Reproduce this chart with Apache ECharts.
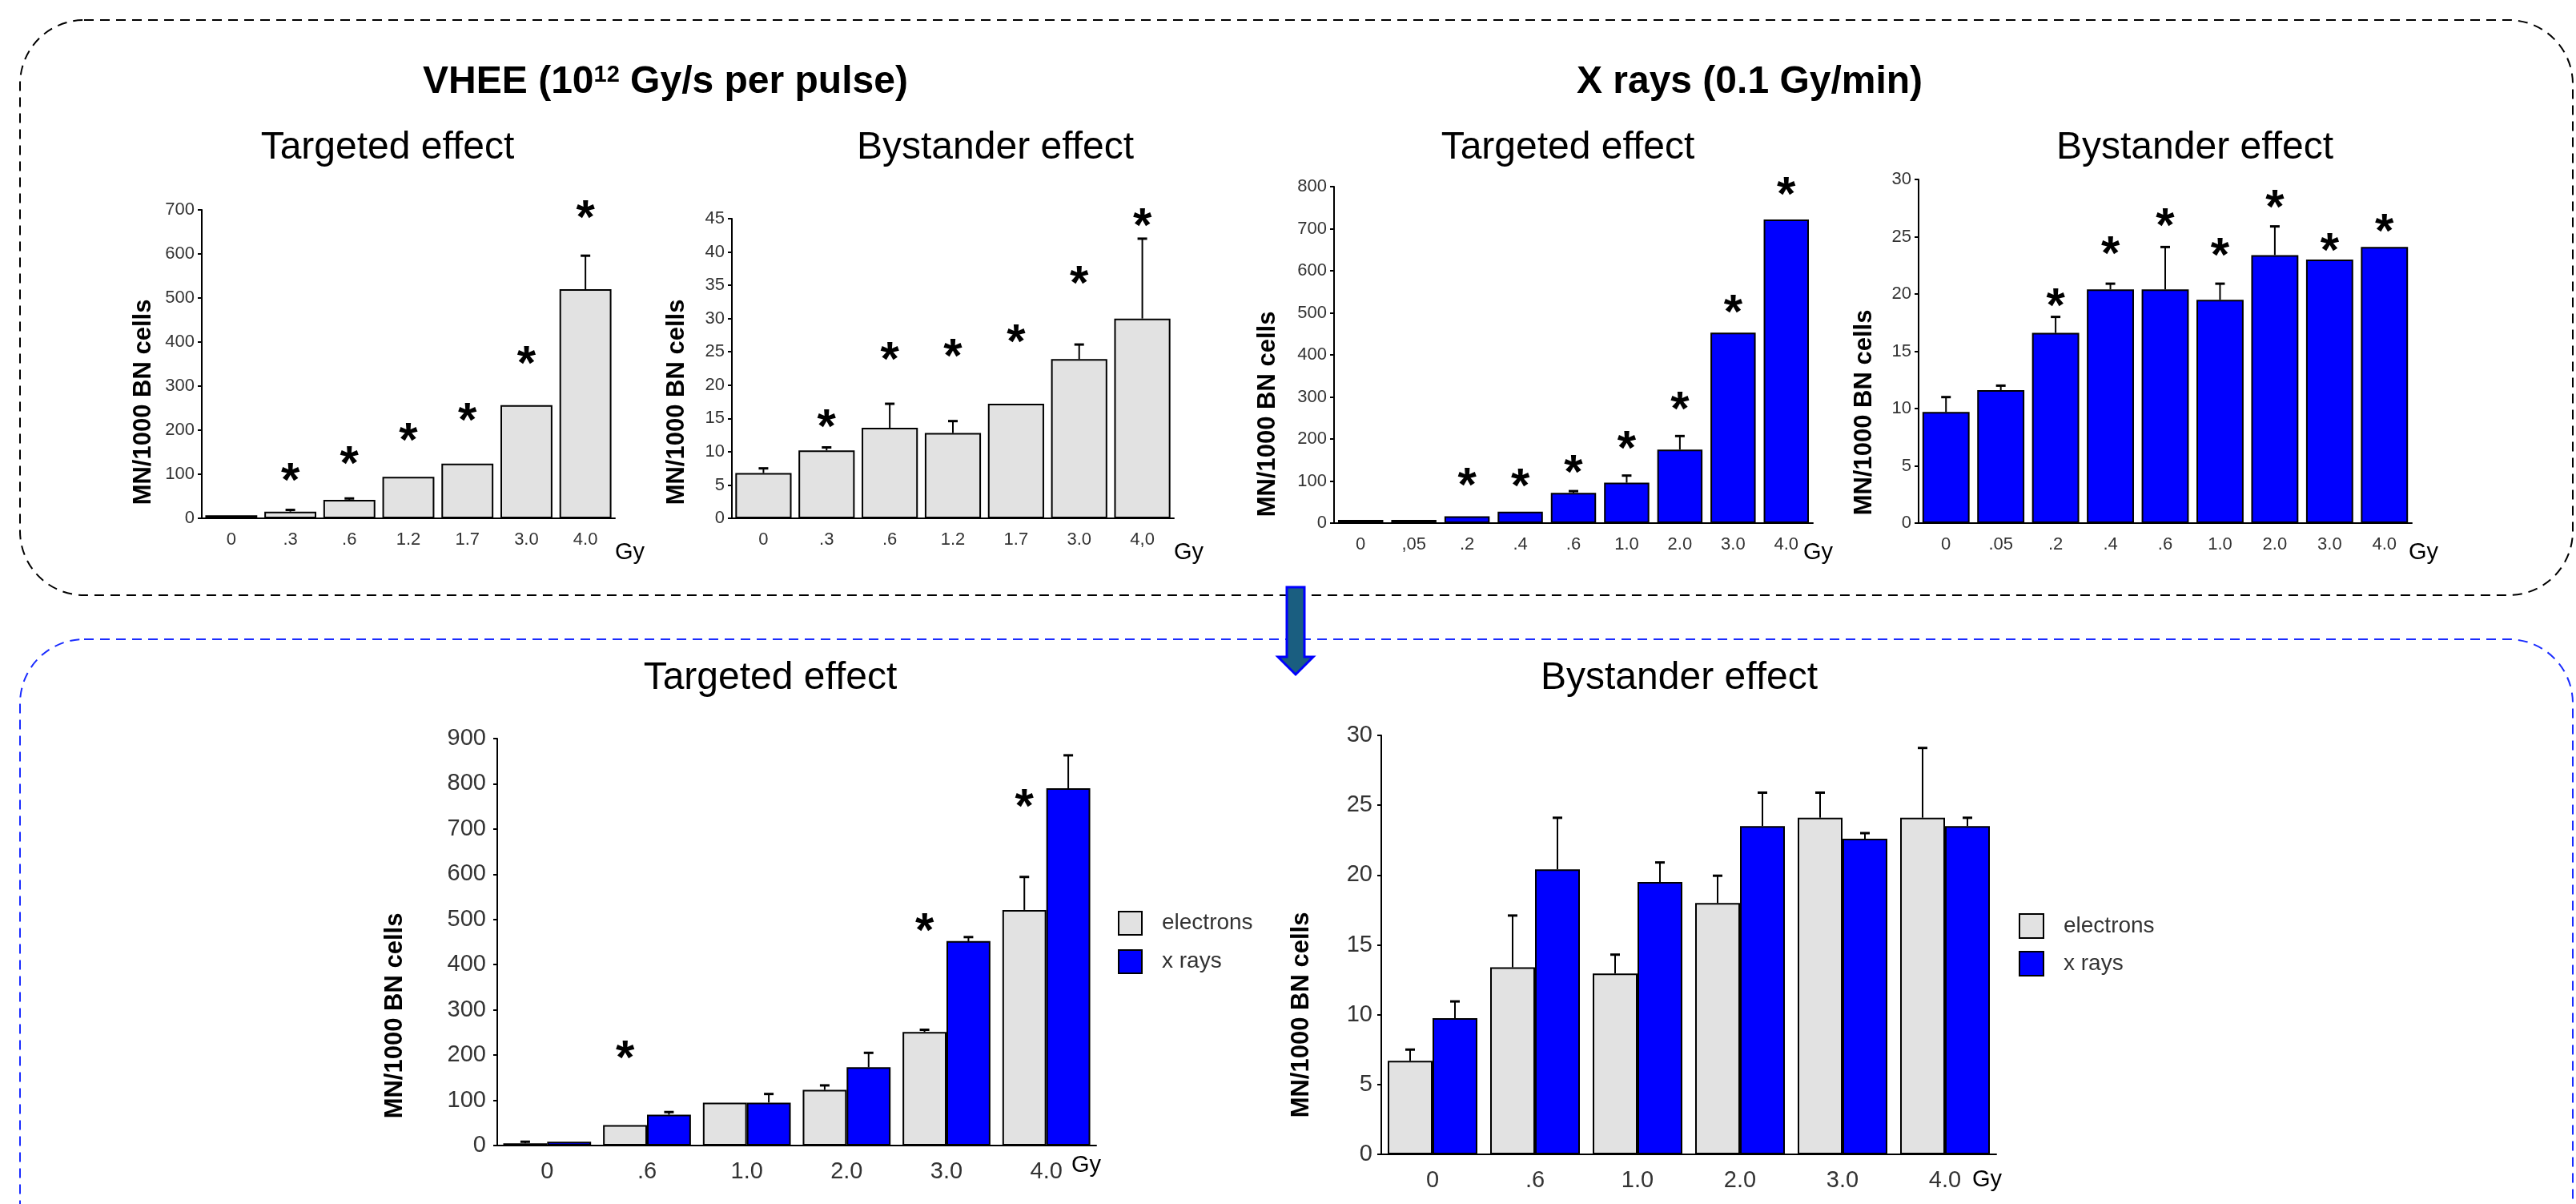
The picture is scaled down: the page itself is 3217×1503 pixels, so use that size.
<!DOCTYPE html>
<html>
<head>
<meta charset="utf-8">
<title>MN/1000 BN cells</title>
<script src="https://cdn.jsdelivr.net/npm/echarts@6/dist/echarts.min.js"></script>
<style>
html, body { margin: 0; padding: 0; background: #fff; }
#main { width: 3217px; height: 1503px; }
</style>
</head>
<body>
<div id="main"></div>
<script>
// doses (Gy) per panel
var vheeDoses = ['0', '.3', '.6', '1.2', '1.7', '3.0', '4.0'];
var vheeDosesB = ['0', '.3', '.6', '1.2', '1.7', '3.0', '4,0'];
var xDoses = ['0', ',05', '.2', '.4', '.6', '1.0', '2.0', '3.0', '4.0'];
var xDosesB = ['0', '.05', '.2', '.4', '.6', '1.0', '2.0', '3.0', '4.0'];
var cmpDoses = ['0', '.6', '1.0', '2.0', '3.0', '4.0'];

// VHEE targeted
var vheeTargeted = [7, 15, 42, 94, 124, 257, 520];
var vheeTargetedErr = [null, 19, 45, null, null, null, 596];
var vheeTargetedStar = [null, 107, 146, 198, 243, 373, 703];

// VHEE bystander
var vheeBystander = [6.8, 10.2, 13.6, 12.8, 17.2, 23.9, 30.0];
var vheeBystanderErr = [7.5, 10.65, 17.2, 14.6, null, 26.1, 42.0];
var vheeBystanderStar = [null, 15.1, 25.3, 25.7, 27.9, 36.7, 45.3];

// X rays targeted
var xTargeted = [7.6, 7.6, 16, 27, 72, 96, 175, 453, 722];
var xTargetedErr = [null, null, null, null, 76, 113, 207, null, null];
var xTargetedStar = [null, null, 113, 110, 142, 199, 294, 523, 803];

// X rays bystander
var xBystander = [9.7, 11.6, 16.6, 20.4, 20.4, 19.5, 23.4, 23.0, 24.1];
var xBystanderErr = [11.0, 12.0, 18.0, 20.9, 24.1, 20.9, 25.9, null, null];
var xBystanderStar = [null, null, 19.8, 24.3, 26.8, 24.2, 28.4, 24.6, 26.3];

// comparison targeted
var cmpTargetedE = [5, 45, 95, 123, 251, 521];
var cmpTargetedEErr = [8.4, null, null, 133, 256, 594];
var cmpTargetedX = [8.4, 68, 95, 173, 452, 790];
var cmpTargetedXErr = [null, 74, 114, 205, 461, 863];
var cmpTargetedStar = [null, 215, null, null, 496, 770];

// comparison bystander
var cmpBystE = [6.7, 13.4, 12.95, 18.0, 24.1, 24.1];
var cmpBystEErr = [7.5, 17.1, 14.3, 19.95, 25.9, 29.1];
var cmpBystX = [9.75, 20.4, 19.5, 23.5, 22.6, 23.5];
var cmpBystXErr = [10.95, 24.1, 20.9, 25.9, 23.0, 24.1];

var myChart = echarts.init(document.getElementById('main'));
var FONT = '"Liberation Sans", Arial, sans-serif';
var GREY = '#e2e2e2', BLUE = '#0000ff';
var STAR = 60;

var panels = [
    {left: 252, top: 262, width: 516, height: 385, max: 700, step: 100, gap: 12, cats: vheeDoses, fs: 22, lm: 16, ym: 9},
    {left: 914, top: 273, width: 552, height: 374, max: 45, step: 5, gap: 11, cats: vheeDosesB, fs: 22, lm: 16, ym: 9},
    {left: 1666, top: 233, width: 598, height: 420, max: 800, step: 100, gap: 15, cats: xDoses, fs: 22, lm: 16, ym: 9},
    {left: 2396, top: 224, width: 616, height: 429, max: 30, step: 5, gap: 14, cats: xDosesB, fs: 22, lm: 16, ym: 9},
    {left: 621, top: 922, width: 748, height: 508, max: 900, step: 100, gap: 12, cats: cmpDoses, fs: 29, lm: 18, ym: 14},
    {left: 1725, top: 918, width: 768, height: 523, max: 30, step: 5, gap: 12.5, cats: cmpDoses, fs: 29, lm: 18, ym: 11}
];

var grids = [], xAxes = [], yAxes = [], series = [];
panels.forEach(function (p, i) {
    grids.push({left: p.left, top: p.top, width: p.width, height: p.height});
    xAxes.push({
        type: 'category', gridIndex: i, data: p.cats,
        axisLine: {lineStyle: {color: '#000', width: 2}},
        axisTick: {alignWithLabel: true, length: 5, lineStyle: {color: '#000', width: 2}},
        axisLabel: {color: '#333', fontSize: p.fs, fontFamily: FONT, margin: p.lm}
    });
    yAxes.push({
        type: 'value', gridIndex: i, min: 0, max: p.max, interval: p.step,
        splitLine: {show: false},
        axisLine: {show: true, lineStyle: {color: '#000', width: 2}},
        axisTick: {show: true, length: 5, lineStyle: {color: '#000', width: 2}},
        axisLabel: {color: '#333', fontSize: p.fs, fontFamily: FONT, margin: p.ym}
    });
});

function bar(i, name, values, color) {
    return {
        type: 'bar', name: name, xAxisIndex: i, yAxisIndex: i, data: values,
        barGap: '0%', barCategoryGap: panels[i].gap + '%',
        itemStyle: {color: color, borderColor: '#000', borderWidth: 2},
        emphasis: {disabled: true}
    };
}

// error bars drawn on top of the bars, slot = position inside the group
function errors(i, values, errs, slot, nBars) {
    var data = [];
    errs.forEach(function (e, k) { if (e != null) data.push([k, values[k], e]); });
    return {
        type: 'custom', xAxisIndex: i, yAxisIndex: i, silent: true, z: 5, data: data,
        renderItem: function (params, api) {
            var c = api.value(0);
            var base = api.coord([c, api.value(1)]);
            var top = api.coord([c, api.value(2)]);
            var bw = api.size([1, 0])[0] * (1 - panels[i].gap / 100) / nBars;
            var x = base[0] + (slot - (nBars - 1) / 2) * bw;
            return {type: 'group', children: [
                {type: 'line', shape: {x1: x, y1: base[1], x2: x, y2: top[1]}, style: {stroke: '#000', lineWidth: 2}},
                {type: 'line', shape: {x1: x - 6, y1: top[1], x2: x + 6, y2: top[1]}, style: {stroke: '#000', lineWidth: 3}}
            ]};
        }
    };
}

function stars(i, marks, slot, nBars) {
    var data = [];
    marks.forEach(function (s, k) { if (s != null) data.push([k, s]); });
    return {
        type: 'custom', xAxisIndex: i, yAxisIndex: i, silent: true, z: 6, data: data,
        renderItem: function (params, api) {
            var pt = api.coord([api.value(0), api.value(1)]);
            var bw = api.size([1, 0])[0] * (1 - panels[i].gap / 100) / nBars;
            var x = pt[0] + (slot - (nBars - 1) / 2) * bw;
            return {
                type: 'text', x: x, y: pt[1] + STAR * 0.24,
                style: {text: '*', fill: '#000', font: 'bold ' + STAR + 'px ' + FONT,
                    textAlign: 'center', textVerticalAlign: 'middle', align: 'center', verticalAlign: 'middle'}
            };
        }
    };
}

series.push(bar(0, 'VHEE targeted', vheeTargeted, GREY), errors(0, vheeTargeted, vheeTargetedErr, 0, 1), stars(0, vheeTargetedStar, 0, 1));
series.push(bar(1, 'VHEE bystander', vheeBystander, GREY), errors(1, vheeBystander, vheeBystanderErr, 0, 1), stars(1, vheeBystanderStar, 0, 1));
series.push(bar(2, 'X targeted', xTargeted, BLUE), errors(2, xTargeted, xTargetedErr, 0, 1), stars(2, xTargetedStar, 0, 1));
series.push(bar(3, 'X bystander', xBystander, BLUE), errors(3, xBystander, xBystanderErr, 0, 1), stars(3, xBystanderStar, 0, 1));
series.push(bar(4, 'electrons', cmpTargetedE, GREY), bar(4, 'x rays', cmpTargetedX, BLUE),
    errors(4, cmpTargetedE, cmpTargetedEErr, 0, 2), errors(4, cmpTargetedX, cmpTargetedXErr, 1, 2),
    stars(4, cmpTargetedStar, 0, 2));
series.push(bar(5, 'electrons', cmpBystE, GREY), bar(5, 'x rays', cmpBystX, BLUE),
    errors(5, cmpBystE, cmpBystEErr, 0, 2), errors(5, cmpBystX, cmpBystXErr, 1, 2));

function legendAt(left, top, size, gap) {
    return {
        data: ['electrons', 'x rays'], orient: 'vertical', left: left, top: top, padding: 0,
        itemWidth: size, itemHeight: size, itemGap: gap, icon: 'rect', selectedMode: false,
        itemStyle: {borderColor: '#000', borderWidth: 2},
        textStyle: {fontSize: 28, color: '#333', fontFamily: FONT, padding: [0, 0, 0, 20]}
    };
}

function txt(x, y, s, size, weight, align) {
    return {type: 'text', x: x, y: y, z: 10,
        style: {text: s, fill: '#000', font: (weight || 'normal') + ' ' + size + 'px ' + FONT,
            textAlign: align || 'center', textVerticalAlign: 'middle', align: align || 'center', verticalAlign: 'middle'}};
}

function yName(x, y) {
    var t = txt(x, y, 'MN/1000 BN cells', 31, 'bold');
    t.rotation = Math.PI / 2;
    return t;
}

var graphics = [
    {type: 'rect', z: 1, shape: {x: 25, y: 25, width: 3188, height: 718, r: 80},
        style: {fill: 'none', stroke: '#000', lineWidth: 2, lineDash: [12, 8]}},
    {type: 'rect', z: 1, shape: {x: 25, y: 798, width: 3188, height: 820, r: 80},
        style: {fill: 'none', stroke: '#1a2cff', lineWidth: 2, lineDash: [12, 8]}},
    {type: 'polygon', z: 3, shape: {points: [[1607, 733], [1629, 733], [1629, 820], [1640, 820], [1618, 842], [1596, 820], [1607, 820]]},
        style: {fill: '#1a5e80', stroke: '#0000ff', lineWidth: 3}},
    {type: 'text', x: 831, y: 103, z: 10, style: {
        text: '{b|VHEE (10}{s|12}{b| Gy/s per pulse)}', textAlign: 'center', textVerticalAlign: 'middle', align: 'center', verticalAlign: 'middle',
        rich: {b: {font: 'bold 48px ' + FONT, fill: '#000'},
               s: {font: 'bold 29px ' + FONT, fill: '#000', verticalAlign: 'top', padding: [0, 0, 14, 0]}}}},
    txt(2185, 103, 'X rays (0.1 Gy/min)', 48, 'bold'),
    txt(484, 185, 'Targeted effect', 48),
    txt(1243, 185, 'Bystander effect', 48),
    txt(1958, 185, 'Targeted effect', 48),
    txt(2741, 185, 'Bystander effect', 48),
    txt(962, 847, 'Targeted effect', 48),
    txt(2097, 847, 'Bystander effect', 48),
    yName(179, 502), yName(845, 502), yName(1583, 517), yName(2328, 515), yName(493, 1268), yName(1625, 1267),
    txt(768, 690, 'Gy', 29, 'normal', 'left'),
    txt(1466, 690, 'Gy', 29, 'normal', 'left'),
    txt(2252, 690, 'Gy', 29, 'normal', 'left'),
    txt(3008, 690, 'Gy', 29, 'normal', 'left'),
    txt(1338, 1455, 'Gy', 29, 'normal', 'left'),
    txt(2463, 1473, 'Gy', 29, 'normal', 'left')
];

var option = {
    backgroundColor: '#fff',
    animation: false,
    grid: grids,
    xAxis: xAxes,
    yAxis: yAxes,
    legend: [legendAt(1396, 1137, 29, 17), legendAt(2521, 1140, 30, 15)],
    series: series,
    graphic: graphics
};
myChart.setOption(option);
</script>
</body>
</html>
